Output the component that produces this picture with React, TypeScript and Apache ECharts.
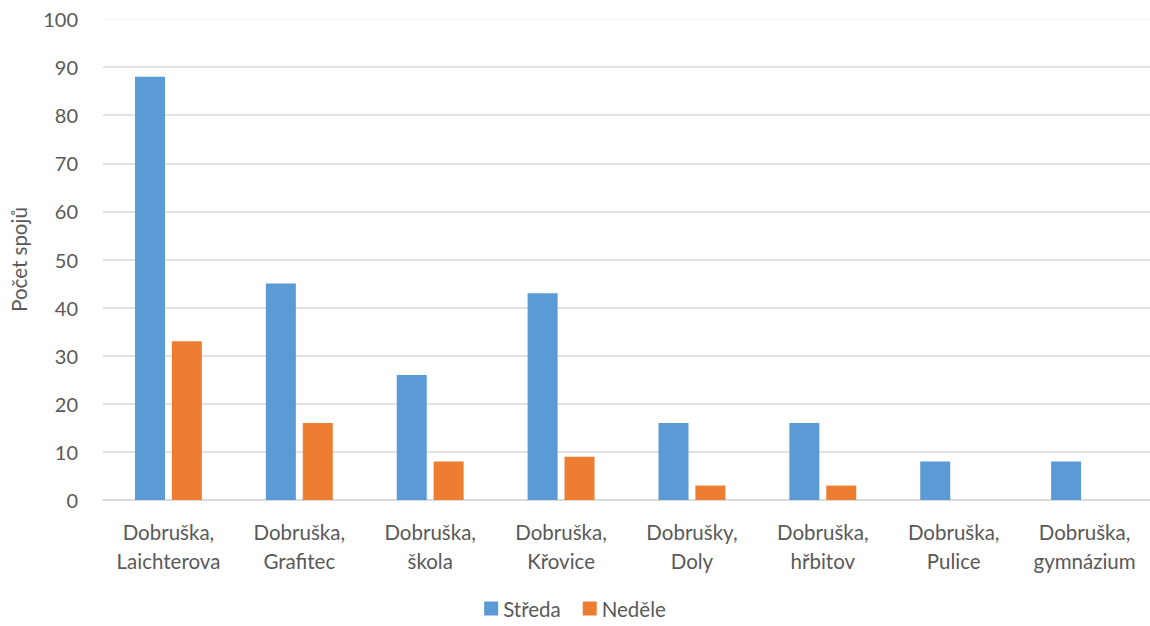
import React, { useEffect, useRef } from "react";
import * as echarts from "echarts";

const categories = [
  "Dobruška,\nLaichterova",
  "Dobruška,\nGrafitec",
  "Dobruška,\nškola",
  "Dobruška,\nKřovice",
  "Dobrušky,\nDoly",
  "Dobruška,\nhřbitov",
  "Dobruška,\nPulice",
  "Dobruška,\ngymnázium",
];
const streda = [88, 45, 26, 43, 16, 16, 8, 8];
const nedele = [33, 16, 8, 9, 3, 3, 0, 0];
const seriesNames = ["Středa", "Neděle"];
const yAxisName = "Počet spojů";

const FONT = "Lato, 'Open Sans', sans-serif";

export default function App() {
  const ref = useRef<HTMLDivElement>(null);
  useEffect(() => {
    if (!ref.current) return;
    const chart = echarts.init(ref.current, null, { renderer: "svg" });
    const gridColors = ["#d9d9d9", "#d9d9d9", "#d9d9d9", "#d9d9d9", "#d9d9d9", "#d9d9d9", "#d9d9d9", "#d9d9d9", "#d9d9d9", "#d9d9d9", "#f7f7f7"];
    chart.setOption({
      animation: false,
      textStyle: { fontFamily: FONT },
      grid: { left: 103, right: 0, top: 19, bottom: 126, containLabel: false },
      legend: {
        bottom: 2,
        left: "center",
        itemWidth: 14,
        itemHeight: 14,
        itemGap: 22,
        icon: "rect",
        textStyle: { fontSize: 20.5, color: "#595959", fontFamily: FONT },
        data: seriesNames,
      },
      xAxis: {
        type: "category",
        data: categories,
        axisLine: { lineStyle: { color: "#d9d9d9", width: 1.5 } },
        axisTick: { show: false },
        axisLabel: {
          color: "#595959",
          fontSize: 20.5,
          lineHeight: 29,
          margin: 17,
          interval: 0,
          fontFamily: FONT,
        },
      },
      yAxis: {
        type: "value",
        min: 0,
        max: 100,
        interval: 10,
        name: yAxisName,
        nameLocation: "middle",
        nameGap: 74,
        nameTextStyle: { fontSize: 20.5, color: "#595959", fontFamily: FONT },
        axisLine: { show: false },
        axisTick: { show: false },
        axisLabel: { color: "#595959", fontSize: 20, margin: 25, fontFamily: FONT },
        splitLine: { lineStyle: { color: gridColors, width: 1.5 } },
      },
      series: [
        {
          name: seriesNames[0],
          type: "bar",
          data: streda,
          barWidth: 30,
          barGap: "23%",
          itemStyle: { color: "#5b9bd5" },
        },
        {
          name: seriesNames[1],
          type: "bar",
          data: nedele,
          barWidth: 30,
          itemStyle: { color: "#ed7d31" },
        },
      ],
    });
    return () => chart.dispose();
  }, []);
  return (
    <div
      ref={ref}
      style={{ position: "fixed", left: 0, top: 0, width: 1150, height: 626, background: "#fff" }}
    />
  );
}
